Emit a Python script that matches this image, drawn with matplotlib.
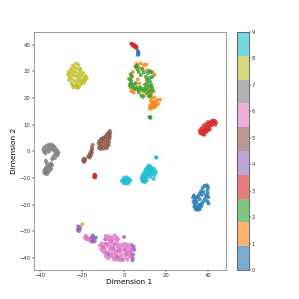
#!/usr/bin/env python3
"""t-SNE style scatter of ten labelled clusters with a discrete colorbar."""
import numpy as np
import matplotlib
matplotlib.use("Agg")
import matplotlib.pyplot as plt

# (x, y), one list per label
pts_0 = [(6.5, 37.8), (6.7, 37.2), (6.8, 36.6), (6.6, 36.2), (6.9, 37.0),
         (39.5, -12.8), (38.5, -13.0), (40.2, -13.5), (37.6, -13.8), (39.8, -14.6), (36.8, -15.0),
         (40.0, -15.8), (36.0, -16.0), (39.2, -16.6), (35.4, -17.0), (40.3, -17.2), (34.6, -17.4),
         (38.8, -17.8), (33.4, -16.6), (33.0, -17.4), (34.0, -18.2), (38.2, -18.6), (39.8, -18.8),
         (40.4, -19.6), (34.8, -19.0), (37.4, -19.4), (33.8, -19.8), (36.6, -20.0), (35.4, -20.2),
         (33.6, -20.8), (34.4, -21.0), (35.8, -21.2), (34.2, -21.8), (35.2, -22.0), (36.2, -21.8),
         (37.0, -20.6), (33.2, -19.0), (38.0, -15.4), (37.2, -16.4), (36.2, -18.0)]
pts_1 = [(13.0, 20.0), (14.5, 20.2), (12.8, 19.0), (15.8, 19.2), (17.2, 19.4), (14.0, 18.6),
         (15.0, 18.0), (13.2, 17.8), (12.4, 17.0), (16.2, 17.8), (14.2, 17.2), (13.0, 16.2),
         (15.2, 17.0), (12.4, 16.0), (14.4, 16.4),
         (6.0, 32.8), (7.8, 33.0), (5.4, 32.0), (9.4, 32.4), (10.6, 32.6), (7.2, 31.4), (9.0, 30.6),
         (4.2, 29.8), (11.0, 30.4), (13.6, 29.6), (14.6, 28.8), (2.2, 27.2), (3.8, 28.0), (6.6, 27.0),
         (7.4, 25.4), (10.8, 26.8), (3.2, 23.8), (3.6, 22.6), (4.6, 22.0), (6.0, 23.2), (8.4, 22.8),
         (10.2, 23.4), (12.6, 23.6), (14.2, 22.4), (13.0, 21.6), (9.6, 21.0), (11.2, 24.6), (5.0, 25.0)]
pts_2 = [(12.4, 12.7), (12.7, 12.6), (12.2, 12.9),
         (5.6, 31.6), (6.4, 30.8), (6.2, 32.2), (7.0, 29.8), (8.6, 31.0), (9.4, 29.6), (8.0, 28.6),
         (11.4, 29.4), (12.2, 30.2), (13.0, 29.8), (13.6, 28.0), (12.4, 27.6), (3.2, 29.0), (3.6, 28.2),
         (2.8, 27.0), (3.4, 26.4), (3.0, 25.4), (2.8, 24.6), (4.0, 25.2), (10.4, 28.0), (11.2, 27.0),
         (12.4, 26.2), (11.0, 25.6), (13.0, 25.0), (12.0, 24.4), (10.0, 25.0), (4.4, 24.0), (5.0, 23.4),
         (6.2, 24.0), (7.0, 23.2), (7.8, 24.0), (8.8, 23.4), (9.6, 22.6), (11.4, 23.0), (12.4, 22.4),
         (13.6, 23.0), (11.0, 21.8), (12.6, 21.0), (7.0, 22.2), (8.2, 21.0), (9.0, 20.4), (11.8, 20.6),
         (13.4, 24.0), (10.2, 23.8), (5.6, 25.6)]
pts_3 = [(3.4, 40.4), (3.9, 40.3), (4.4, 40.0), (4.8, 39.6), (5.2, 39.2), (5.6, 39.0), (6.0, 38.9),
         (4.2, 39.7), (5.0, 39.9), (5.8, 39.4),
         (-14.2, -9.0), (-14.0, -9.4), (-13.7, -9.2), (-14.3, -9.7), (-13.8, -9.8), (-14.0, -8.8),
         (43.4, 11.4), (42.4, 11.6), (44.0, 10.8), (42.8, 10.6), (41.6, 10.8), (43.6, 10.0), (40.6, 10.4),
         (42.0, 9.8), (41.0, 9.4), (39.8, 9.6), (40.4, 8.8), (39.0, 9.0), (39.6, 8.2), (38.4, 8.4),
         (38.8, 7.6), (37.6, 7.8), (38.0, 7.0), (37.0, 7.2), (37.4, 6.4), (36.4, 6.8), (39.2, 7.2), (40.0, 7.8),
         (38.0, 9.6), (39.0, 10.2), (37.0, 8.6), (36.2, 7.8), (41.0, 8.2), (38.4, 6.2), (40.2, 11.0), (41.8, 11.2)]
pts_4 = [(-22.0, -28.2), (-21.2, -28.4), (-21.8, -29.0), (-21.0, -29.2), (-22.2, -29.6), (-21.5, -30.0),
         (-15.0, -31.6), (-14.6, -32.2), (-15.6, -32.4), (-14.2, -32.8), (-16.2, -33.0), (-15.0, -33.2),
         (-14.0, -33.8), (-15.6, -33.8), (-13.4, -32.4), (-15.0, -34.0),
         (0.0, -32.2), (-9.0, -33.0), (-8.4, -34.8), (-6.2, -33.6), (-9.8, -36.0), (-4.6, -35.0),
         (3.6, -35.2), (4.6, -35.8), (3.8, -36.8), (5.0, -37.0), (0.4, -37.0), (-2.6, -37.4),
         (-8.0, -38.2), (-7.4, -39.0), (-3.4, -39.4), (3.4, -38.4), (4.4, -38.8), (3.8, -39.6),
         (4.2, -40.4), (4.0, -41.0), (-2.4, -40.2), (-0.6, -40.8), (1.4, -38.6), (-5.0, -36.4)]
pts_5 = [(-6.8, 7.6), (-7.4, 7.0), (-6.6, 6.6), (-8.2, 6.4), (-7.2, 6.0), (-8.8, 5.6), (-6.8, 5.4),
         (-9.6, 5.2), (-8.0, 5.0), (-10.4, 4.8), (-7.0, 4.6), (-9.0, 4.4), (-11.0, 4.6), (-8.0, 4.0),
         (-10.0, 3.8), (-11.8, 3.8), (-7.2, 3.4), (-9.0, 3.2), (-11.0, 3.2), (-12.2, 3.0), (-8.0, 2.6),
         (-10.0, 2.4), (-11.6, 2.2), (-7.4, 2.2), (-9.0, 1.8), (-10.8, 1.6), (-12.0, 1.2), (-8.2, 1.2),
         (-11.0, 0.8), (-9.6, 1.0),
         (-15.0, 2.4), (-15.4, 1.4), (-15.2, 0.6), (-15.8, 0.0), (-15.4, -0.6), (-16.2, -0.8),
         (-16.6, -1.4), (-15.8, -1.6), (-17.2, -2.0), (-16.4, -2.4),
         (-19.2, -2.8), (-18.6, -3.0), (-19.6, -3.4), (-18.8, -3.6), (-19.2, -4.0)]
pts_6 = [(-18.4, -31.8), (-18.6, -32.6), (-17.8, -32.2), (-18.0, -33.0), (-17.2, -32.8), (-16.8, -33.4),
         (-8.8, -31.8), (-7.4, -32.0), (-6.0, -32.2), (-4.4, -31.6), (-3.6, -32.4), (-8.0, -33.0),
         (-6.8, -33.2), (-5.0, -33.0), (-3.4, -33.6), (-10.6, -34.6), (-9.0, -34.6), (-7.0, -34.4),
         (-5.6, -34.2), (-4.0, -34.8), (-2.6, -35.0), (-1.0, -35.0), (0.4, -34.8), (1.8, -35.0),
         (-11.6, -35.4), (-10.4, -35.8), (-8.0, -35.6), (-6.4, -35.6), (-3.0, -36.0), (-1.6, -36.2),
         (0.0, -36.0), (1.4, -36.0), (2.8, -36.2), (-11.0, -36.8), (-9.2, -37.0), (-7.0, -37.0),
         (-5.4, -37.2), (-4.0, -37.4), (-1.4, -37.4), (0.8, -37.6), (2.2, -37.2), (3.4, -37.6),
         (-8.8, -38.2), (-6.6, -38.4), (-5.2, -38.6), (-3.8, -38.4), (-1.6, -38.6), (0.2, -38.6),
         (2.4, -38.4), (-8.8, -39.4), (-6.0, -39.6), (-4.4, -39.8), (-1.2, -39.6), (0.8, -39.8),
         (2.6, -39.6), (-7.6, -40.2), (-5.0, -40.6), (-3.6, -40.8), (-1.8, -41.0), (1.6, -40.8),
         (-10.0, -37.8), (-2.8, -33.0), (-6.2, -36.4), (-2.2, -36.8)]
pts_7 = [(-35.0, 2.6), (-36.2, 2.4), (-34.0, 2.2), (-37.2, 2.0), (-35.4, 1.8), (-33.2, 1.6), (-38.2, 1.4),
         (-36.4, 1.2), (-34.4, 1.2), (-32.6, 0.8), (-38.6, 0.6), (-37.0, 0.4), (-35.2, 0.6), (-33.6, 0.4),
         (-31.8, 0.2), (-38.2, -0.2), (-36.0, -0.2), (-33.0, -0.2), (-31.4, -0.6), (-37.6, -0.8), (-32.4, -1.0),
         (-33.4, -1.6), (-31.8, -1.6), (-34.0, -2.4), (-33.0, -2.6), (-34.4, -3.0),
         (-37.4, -3.6), (-37.0, -4.4), (-34.8, -4.6), (-35.8, -5.0), (-34.4, -5.2), (-36.6, -5.6),
         (-35.2, -5.8), (-37.4, -6.2), (-36.0, -6.4), (-34.8, -6.6), (-38.0, -7.0), (-36.8, -7.0),
         (-35.6, -7.2), (-38.2, -7.8), (-37.2, -7.8), (-36.2, -7.8), (-37.8, -8.4), (-36.8, -8.6)]
pts_8 = [(-20.0, -27.4), (-23.0, 33.0), (-24.4, 32.2), (-21.8, 32.4), (-23.6, 31.4), (-20.8, 31.0),
         (-25.4, 31.0), (-22.4, 31.0), (-24.6, 30.2), (-21.0, 30.0), (-26.4, 29.8), (-23.2, 29.8),
         (-19.6, 29.4), (-25.4, 29.2), (-22.0, 29.0), (-26.8, 28.8), (-24.2, 28.6), (-20.4, 28.6),
         (-18.4, 28.2), (-26.0, 28.0), (-23.0, 28.0), (-21.4, 27.8), (-19.2, 27.6), (-17.8, 27.4),
         (-25.0, 27.2), (-22.0, 26.8), (-20.2, 26.8), (-18.6, 26.6), (-26.4, 26.8), (-23.6, 26.4),
         (-21.0, 26.0), (-19.2, 25.8), (-25.2, 25.6), (-22.6, 25.4), (-20.4, 25.2), (-24.6, 24.8),
         (-23.2, 24.6), (-21.8, 24.4), (-24.2, 24.0), (-22.4, 23.8), (-21.6, 24.0)]
pts_9 = [(15.3, -2.3), (15.5, -2.4),
         (0.0, -9.9), (1.2, -9.8), (2.0, -10.2), (-0.6, -10.6), (0.6, -10.6), (1.8, -10.8), (3.0, -10.8),
         (-1.0, -11.2), (0.2, -11.4), (1.2, -11.4), (2.4, -11.4), (-0.2, -12.0), (1.0, -12.2), (2.0, -12.0),
         (11.6, -5.4), (12.6, -5.6), (11.0, -6.2), (12.2, -6.2), (13.4, -6.4), (14.4, -6.6), (10.4, -6.8),
         (11.8, -7.0), (13.0, -7.2), (14.8, -7.4), (10.0, -7.6), (11.2, -7.8), (12.6, -7.8), (14.0, -8.0),
         (15.2, -8.0), (9.4, -8.4), (10.6, -8.6), (11.8, -8.6), (13.2, -8.8), (14.6, -9.0), (8.8, -9.2),
         (10.0, -9.4), (11.2, -9.4), (12.6, -9.6), (8.4, -10.0), (9.4, -10.2), (10.6, -10.2), (8.6, -10.8),
         (9.6, -11.0), (10.8, -11.0), (9.0, -11.4), (10.0, -11.6), (14.2, -10.4)]

all_pts = [pts_0, pts_1, pts_2, pts_3, pts_4, pts_5, pts_6, pts_7, pts_8, pts_9]
xs = np.array([p[0] for g in all_pts for p in g])
ys = np.array([p[1] for g in all_pts for p in g])
labels = np.array([i for i, g in enumerate(all_pts) for _ in g])

plt.rcParams["font.size"] = 4
fig = plt.figure(figsize=(2.99, 2.99), dpi=100)
ax = fig.add_axes([33.5 / 299, 1 - 270 / 299, 192 / 299, 238 / 299])
cax = fig.add_axes([237 / 299, 1 - 270 / 299, 11.5 / 299, 238 / 299])

sc = ax.scatter(xs, ys, c=labels, cmap="tab10", s=8, alpha=0.8, linewidths=0)
ax.set_xlim(-43.3, 48.5)
ax.set_ylim(-44.6, 44.8)
ax.set_xticks([-40, -20, 0, 20, 40])
ax.set_yticks([-40, -30, -20, -10, 0, 10, 20, 30, 40])
ax.set_xlabel("Dimension 1", fontsize=5.3, labelpad=1)
ax.set_ylabel("Dimension 2", fontsize=5.3, labelpad=1.5)
ax.tick_params(labelsize=3.8, length=1.2, width=0.35, pad=1, labelcolor="#333333")
for s in ax.spines.values():
    s.set_linewidth(0.7)
    s.set_color("#9a9a9a")

cb = fig.colorbar(sc, cax=cax, ticks=range(10))
cb.solids.set_alpha(0.6)  # bar stays paler than the points
cb.ax.tick_params(labelsize=3.8, length=1.2, width=0.35, pad=1, labelcolor="#333333")
cb.outline.set_linewidth(0.6)
cb.outline.set_edgecolor("#555555")

plt.savefig("out.png", dpi=100)
